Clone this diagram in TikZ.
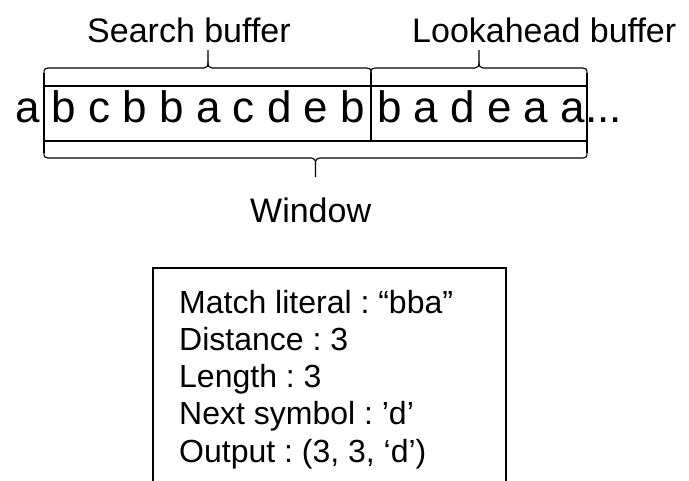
\documentclass[tikz,border=0pt]{standalone}
\usepackage{fontspec}
\setmainfont{Liberation Sans}
\usetikzlibrary{positioning}
\frenchspacing

\begin{document}
\begin{tikzpicture}[x=1pt, y=-1pt,
  rule/.style={line width=1.1pt},
  frame/.style={line width=2pt},
  label/.style={font=\fontsize{34}{40}\selectfont, inner sep=0pt},
  stream/.style={font=\fontsize{44}{50}\selectfont, inner sep=0pt},
  info/.style={font=\fontsize{32}{37.25}\selectfont, align=left, inner sep=0pt}]
\useasboundingbox (0,0) rectangle (689,480);

% the symbol stream and the sliding window over it
\node[stream, anchor=base west] (stream) at (15,122) {a b c b b a c d e b b a d e a a...};
\draw[rule] (44,86) -- (587,86) (44,141) -- (587,141);
\draw[rule] (44,73) -- (44,153) (587,73) -- (587,153) (371,73) -- (371,141);

% braces over the two buffers
\draw[rule] (44,73) .. controls (44,69) and (45,68) .. (48,68) -- (204,68)
  .. controls (207,68) and (208,66) .. (208,62) -- (208,50);
\draw[rule] (208,62) .. controls (208,66) and (209,68) .. (212,68) -- (367,68)
  .. controls (370,68) and (371,69) .. (371,73);
\draw[rule] (371,73) .. controls (371,69) and (372,68) .. (375,68) -- (475,68)
  .. controls (478,68) and (479,66) .. (479,62) -- (479,50);
\draw[rule] (479,62) .. controls (479,66) and (480,68) .. (483,68) -- (583,68)
  .. controls (586,68) and (587,69) .. (587,73);

% brace under the whole window
\draw[rule] (44,153) .. controls (44,157) and (45,158) .. (48,158) -- (311.5,158)
  .. controls (314.5,158) and (315.5,160) .. (315.5,164) -- (315.5,177);
\draw[rule] (315.5,164) .. controls (315.5,160) and (316.5,158) .. (319.5,158) -- (583,158)
  .. controls (586,158) and (587,157) .. (587,153);

\node[label, anchor=base west] (search) at (87,42) {Search buffer};
\node[label, anchor=base west] (lookahead) at (412,42) {Lookahead buffer};
\node[label, anchor=base west] (window) at (250,222) {Window};

% result of the match
\node[info, anchor=base west] (result) at (179,462) {Match literal : “bba”\\
Distance : 3\\
Length : 3\\
Next symbol : ’d’\\
Output : (3, 3, ‘d’)};
\draw[frame] (153,484) |- (506,268) -- (506,484);
\end{tikzpicture}
\end{document}
